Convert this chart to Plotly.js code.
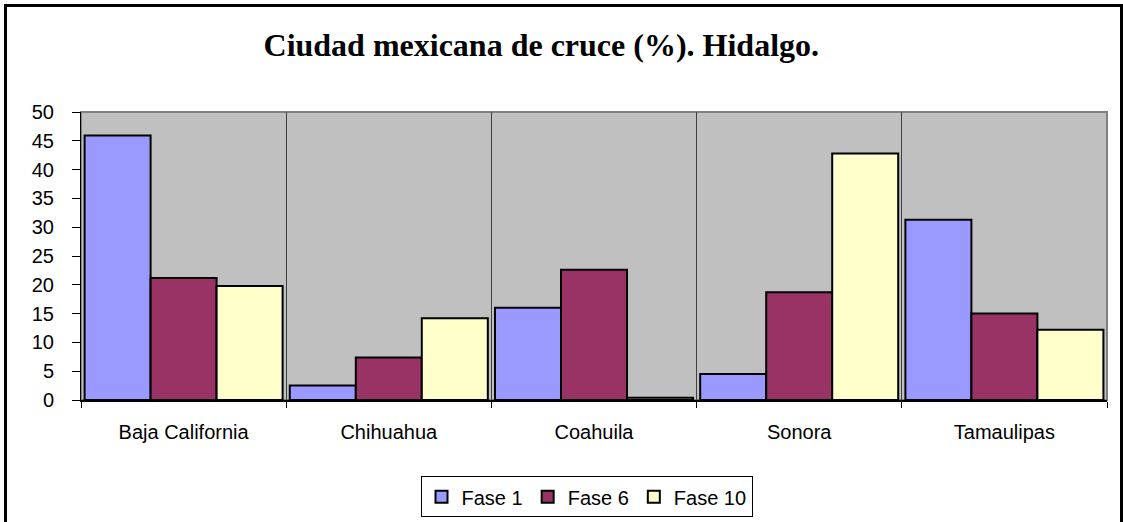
<!DOCTYPE html>
<html>
<head>
<meta charset="utf-8">
<script src="https://cdn.plot.ly/plotly-3.0.1.min.js"></script>
<style>
  html, body { margin: 0; padding: 0; background: #fff; }
  #wrap { position: relative; width: 1123px; height: 522px; }
  #chart { position: absolute; left: 0; top: 0; width: 1123px; height: 522px; }
  #frame { position: absolute; left: 4px; top: 4px; width: 1113px; height: 530px;
           border: 3px solid #000; pointer-events: none; }
</style>
</head>
<body>
<div id="wrap">
  <div id="chart"></div>
  <div id="frame"></div>
</div>
<script>
const categories = ["Baja California", "Chihuahua", "Coahuila", "Sonora", "Tamaulipas"];
const fase1 = [45.9, 2.5, 16.0, 4.5, 31.3];
const fase6 = [21.2, 7.4, 22.6, 18.7, 15.0];
const fase10 = [19.8, 14.2, 0.4, 42.8, 12.2];
const seriesNames = ["Fase 1", "Fase 6", "Fase 10"];
const seriesColors = ["#9999FF", "#993366", "#FFFFCC"];
const yTicks = [0, 5, 10, 15, 20, 25, 30, 35, 40, 45, 50];

const values = [fase1, fase6, fase10];
const traces = values.map((v, i) => ({
  type: "bar",
  name: seriesNames[i],
  x: categories,
  y: v,
  marker: { color: seriesColors[i], line: { color: "#000", width: 2 } },
  hoverinfo: "skip"
}));

const layout = {
  width: 1123, height: 522,
  margin: { l: 81, r: 16, t: 112, b: 122, autoexpand: false },
  paper_bgcolor: "#fff",
  plot_bgcolor: "#C0C0C0",
  barmode: "group",
  bargap: 0.035,
  bargroupgap: 0,
  title: {
    text: "<b>Ciudad mexicana de cruce (%). Hidalgo.</b>",
    font: { family: "Liberation Serif, Times New Roman, serif", size: 32, color: "#000" },
    x: 0.482, xanchor: "center", y: 0.914, yanchor: "middle"
  },
  font: { family: "Liberation Sans, Arial, sans-serif", size: 20, color: "#000" },
  xaxis: {
    type: "category",
    tickson: "boundaries",
    ticks: "outside", ticklen: 6, tickcolor: "#000", tickwidth: 1,
    ticklabelstandoff: 13,
    showgrid: true, gridcolor: "#404040", gridwidth: 1,
    showline: true, linecolor: "#000", linewidth: 2,
    tickfont: { size: 20 },
    automargin: false,
    fixedrange: true
  },
  yaxis: {
    range: [0, 50],
    tickvals: yTicks,
    ticktext: yTicks.map(String),
    ticks: "outside", ticklen: 8, tickcolor: "#000", tickwidth: 1,
    ticklabelstandoff: 14,
    showgrid: false, zeroline: false,
    showline: true, linecolor: "#000", linewidth: 1,
    tickfont: { size: 20 },
    automargin: false,
    fixedrange: true
  },
  shapes: [{
    type: "rect", xref: "paper", yref: "paper", x0: 0, x1: 1, y0: 0, y1: 1,
    line: { color: "#808080", width: 2 }, layer: "below"
  }],
  showlegend: true,
  legend: {
    orientation: "h",
    x: 0.4927, xanchor: "center",
    y: -0.265, yanchor: "top",
    bordercolor: "#000", borderwidth: 1,
    bgcolor: "#fff",
    font: { size: 20 },
    traceorder: "normal",
    itemwidth: 30
  }
};

Plotly.newPlot("chart", traces, layout, { staticPlot: true, displayModeBar: false });
</script>
</body>
</html>
